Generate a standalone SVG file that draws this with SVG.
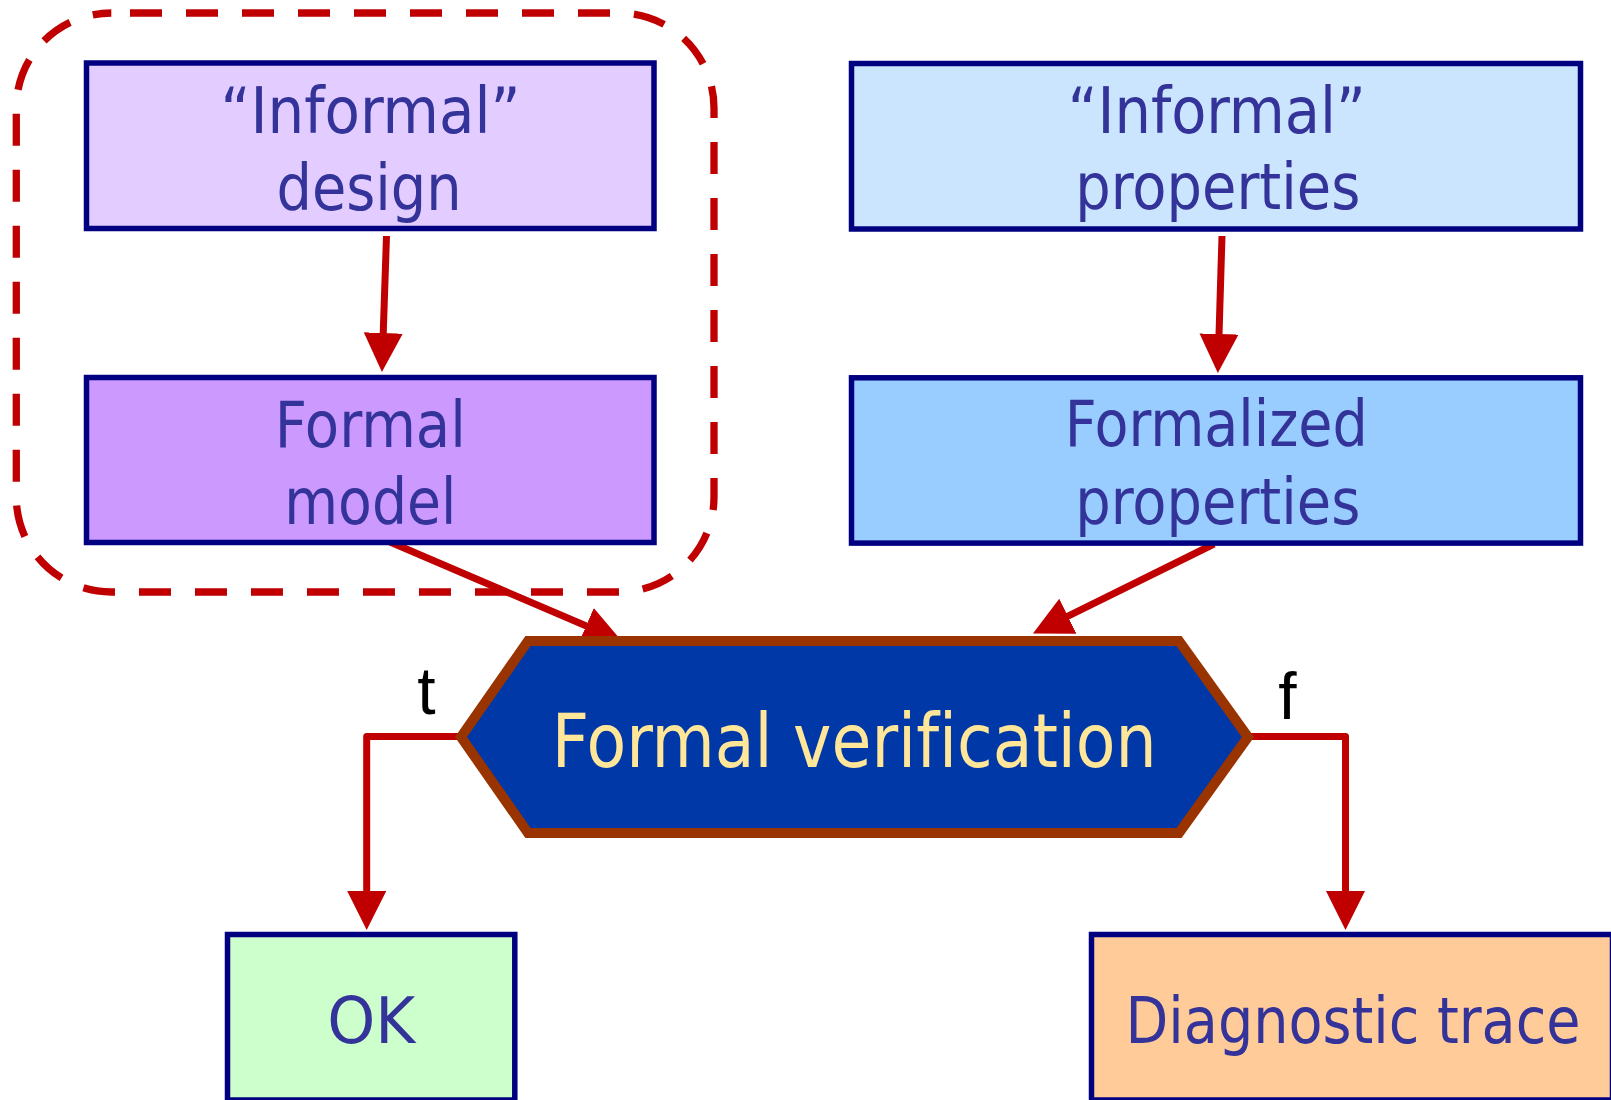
<svg xmlns="http://www.w3.org/2000/svg" width="1611" height="1100" viewBox="0 0 1611 1100">
  <style>
    .box { stroke: #000080; stroke-width: 5.5; }
    .lbl { font-family: "DejaVu Sans Condensed", "DejaVu Sans", sans-serif; font-stretch: condensed; font-size: 64px; fill: #333399; text-anchor: middle; font-variant-ligatures: none; }
    .edge { fill: none; stroke: #C00000; stroke-width: 7; stroke-linejoin: round; }
    .tf { font-family: "Liberation Sans", Arial, sans-serif; font-size: 66px; fill: #000000; text-anchor: middle; }
  </style>
  <defs>
    <marker id="head" markerUnits="userSpaceOnUse" markerWidth="40" markerHeight="40" refX="1" refY="19.5" orient="auto">
      <path d="M0,0 L39,19.5 L0,39 z" fill="#C00000"/>
    </marker>
  </defs>

  <rect width="1611" height="1100" fill="#FFFFFF"/>

  <!-- dashed grouping around the design side -->
  <rect id="design-group" x="16.3" y="13" width="697.7" height="579" rx="95" ry="95" fill="none" stroke="#C00000" stroke-width="7.3" stroke-dasharray="32 24" stroke-dashoffset="37.3"/>

  <!-- connectors -->
  <g id="connectors">
    <line class="edge" x1="386.5" y1="236" x2="383.2" y2="334" marker-end="url(#head)"/>
    <line class="edge" x1="1222" y1="236" x2="1219" y2="335" marker-end="url(#head)"/>
    <line class="edge" x1="390" y1="542" x2="587" y2="626.3" marker-end="url(#head)"/>
    <line class="edge" x1="1214" y1="544" x2="1067" y2="616.7" marker-end="url(#head)"/>
    <path class="edge" d="M461,736.5 H366.7 V892" marker-end="url(#head)"/>
    <path class="edge" d="M1248,736.5 H1345.5 V892" marker-end="url(#head)"/>
  </g>

  <g id="informal-design">
    <rect class="box" x="86.5" y="63" width="567.5" height="165.5" fill="#E3CCFF"/>
    <text class="lbl" x="370.5" y="133" textLength="300" lengthAdjust="spacingAndGlyphs">“Informal”</text>
    <text class="lbl" x="369" y="210" textLength="185" lengthAdjust="spacingAndGlyphs">design</text>
  </g>

  <g id="formal-model">
    <rect class="box" x="86.5" y="377.5" width="567.5" height="165" fill="#CC99FF"/>
    <text class="lbl" x="370.3" y="447" textLength="191" lengthAdjust="spacingAndGlyphs">Formal</text>
    <text class="lbl" x="370.3" y="523.5" textLength="172" lengthAdjust="spacingAndGlyphs">model</text>
  </g>

  <g id="informal-properties">
    <rect class="box" x="851.5" y="63.5" width="729" height="165.5" fill="#CCE5FF"/>
    <text class="lbl" x="1216.8" y="132.5" textLength="298" lengthAdjust="spacingAndGlyphs">“Informal”</text>
    <text class="lbl" x="1217.8" y="209" textLength="285" lengthAdjust="spacingAndGlyphs">properties</text>
  </g>

  <g id="formalized-properties">
    <rect class="box" x="851.5" y="377.8" width="729" height="165.3" fill="#99CCFF"/>
    <text class="lbl" x="1216.3" y="446" textLength="303" lengthAdjust="spacingAndGlyphs">Formalized</text>
    <text class="lbl" x="1217.8" y="523.5" textLength="285" lengthAdjust="spacingAndGlyphs">properties</text>
  </g>

  <g id="formal-verification">
    <polygon points="528,641 1179,641 1248,737 1179,833 528,833 461,737" fill="#0038A8" stroke="#993300" stroke-width="10" stroke-linejoin="miter"/>
    <text class="lbl" x="854.2" y="766.7" font-size="74" fill="#FFE699" textLength="605" lengthAdjust="spacingAndGlyphs" style="font-size:74px;fill:#FFE699">Formal verification</text>
  </g>

  <g id="label-t">
    <text class="tf" x="426.5" y="714">t</text>
  </g>
  <g id="label-f">
    <text class="tf" x="1287.5" y="719">f</text>
  </g>

  <g id="ok">
    <rect class="box" x="227.5" y="934.5" width="287.3" height="165.5" fill="#CCFFCC"/>
    <text class="lbl" x="371.2" y="1043.3" textLength="88" lengthAdjust="spacingAndGlyphs">OK</text>
  </g>

  <g id="diagnostic-trace">
    <rect class="box" x="1091.5" y="934.5" width="521" height="165.5" fill="#FFCC99"/>
    <text class="lbl" x="1353" y="1043.3" textLength="455" lengthAdjust="spacingAndGlyphs">Diagnostic trace</text>
  </g>
</svg>
